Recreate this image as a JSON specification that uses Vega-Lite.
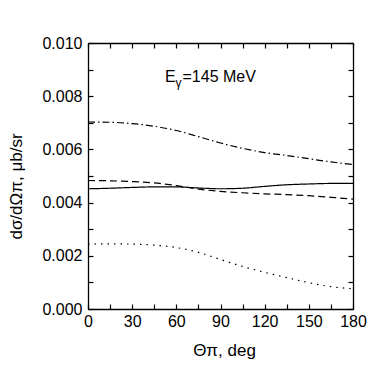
{
  "$schema": "https://vega.github.io/schema/vega-lite/v6.json",
  "width": 265,
  "height": 266,
  "autosize": {"type": "none"},
  "padding": {"left": 88, "top": 43, "right": 38, "bottom": 72},
  "background": "white",
  "config": {
    "view": {"stroke": null},
    "font": "Liberation Sans",
    "axis": {
      "grid": false,
      "domainColor": "black",
      "domainWidth": 1.3,
      "tickColor": "black",
      "tickWidth": 1.2,
      "labelFont": "Liberation Sans",
      "labelFontSize": 16,
      "labelColor": "black",
      "titleFont": "Liberation Sans",
      "titleFontSize": 17,
      "titleFontWeight": "normal",
      "titleColor": "black",
      "labelFlush": false,
      "labelOverlap": false,
      "labelBound": false
    }
  },
  "datasets": {
    "curves": [
      {"theta": 0, "sigma": 0.00452, "curve": "solid"},
      {"theta": 15, "sigma": 0.00454, "curve": "solid"},
      {"theta": 30, "sigma": 0.00457, "curve": "solid"},
      {"theta": 45, "sigma": 0.00459, "curve": "solid"},
      {"theta": 60, "sigma": 0.00459, "curve": "solid"},
      {"theta": 75, "sigma": 0.00455, "curve": "solid"},
      {"theta": 90, "sigma": 0.00452, "curve": "solid"},
      {"theta": 105, "sigma": 0.00454, "curve": "solid"},
      {"theta": 120, "sigma": 0.00461, "curve": "solid"},
      {"theta": 135, "sigma": 0.00467, "curve": "solid"},
      {"theta": 150, "sigma": 0.00470, "curve": "solid"},
      {"theta": 165, "sigma": 0.00472, "curve": "solid"},
      {"theta": 180, "sigma": 0.00472, "curve": "solid"},
      {"theta": 0, "sigma": 0.00483, "curve": "dashed"},
      {"theta": 15, "sigma": 0.00482, "curve": "dashed"},
      {"theta": 30, "sigma": 0.00479, "curve": "dashed"},
      {"theta": 45, "sigma": 0.00474, "curve": "dashed"},
      {"theta": 60, "sigma": 0.00464, "curve": "dashed"},
      {"theta": 75, "sigma": 0.00451, "curve": "dashed"},
      {"theta": 90, "sigma": 0.00442, "curve": "dashed"},
      {"theta": 105, "sigma": 0.00437, "curve": "dashed"},
      {"theta": 120, "sigma": 0.00433, "curve": "dashed"},
      {"theta": 135, "sigma": 0.00430, "curve": "dashed"},
      {"theta": 150, "sigma": 0.00426, "curve": "dashed"},
      {"theta": 165, "sigma": 0.00420, "curve": "dashed"},
      {"theta": 180, "sigma": 0.00413, "curve": "dashed"},
      {"theta": 0, "sigma": 0.00703, "curve": "dashdot"},
      {"theta": 15, "sigma": 0.00702, "curve": "dashdot"},
      {"theta": 30, "sigma": 0.00697, "curve": "dashdot"},
      {"theta": 45, "sigma": 0.00687, "curve": "dashdot"},
      {"theta": 60, "sigma": 0.00671, "curve": "dashdot"},
      {"theta": 75, "sigma": 0.00648, "curve": "dashdot"},
      {"theta": 90, "sigma": 0.00624, "curve": "dashdot"},
      {"theta": 105, "sigma": 0.00604, "curve": "dashdot"},
      {"theta": 120, "sigma": 0.00588, "curve": "dashdot"},
      {"theta": 135, "sigma": 0.00577, "curve": "dashdot"},
      {"theta": 150, "sigma": 0.00565, "curve": "dashdot"},
      {"theta": 165, "sigma": 0.00553, "curve": "dashdot"},
      {"theta": 180, "sigma": 0.00543, "curve": "dashdot"},
      {"theta": 0, "sigma": 0.00244, "curve": "dotted"},
      {"theta": 15, "sigma": 0.00245, "curve": "dotted"},
      {"theta": 30, "sigma": 0.00244, "curve": "dotted"},
      {"theta": 45, "sigma": 0.00240, "curve": "dotted"},
      {"theta": 60, "sigma": 0.00231, "curve": "dotted"},
      {"theta": 75, "sigma": 0.00213, "curve": "dotted"},
      {"theta": 90, "sigma": 0.00186, "curve": "dotted"},
      {"theta": 105, "sigma": 0.00160, "curve": "dotted"},
      {"theta": 120, "sigma": 0.00138, "curve": "dotted"},
      {"theta": 135, "sigma": 0.00118, "curve": "dotted"},
      {"theta": 150, "sigma": 0.00099, "curve": "dotted"},
      {"theta": 165, "sigma": 0.00084, "curve": "dotted"},
      {"theta": 180, "sigma": 0.00076, "curve": "dotted"}
    ]
  },
  "layer": [
    {
      "data": {"name": "curves"},
      "mark": {"type": "line", "interpolate": "monotone", "color": "black", "strokeWidth": 1.2},
      "encoding": {
        "x": {
          "field": "theta", "type": "quantitative",
          "scale": {"domain": [0, 180], "nice": false, "zero": false},
          "axis": {
            "orient": "bottom",
            "values": [0, 15, 30, 45, 60, 75, 90, 105, 120, 135, 150, 165, 180],
            "labelExpr": "datum.value % 30 === 0 ? datum.label : ''",
            "tickSize": -5,
            "labelPadding": 9,
            "title": "Θπ, deg",
            "titleX": 136,
            "titleY": 46,
            "titleAlign": "center",
            "titleBaseline": "alphabetic",
            "encode": {"ticks": {"update": {"y2": {"signal": "datum.value % 30 === 0 ? -5 : -3"}}}}
          }
        },
        "y": {
          "field": "sigma", "type": "quantitative",
          "scale": {"domain": [0, 0.01], "nice": false},
          "axis": {
            "orient": "left",
            "values": [0, 0.001, 0.002, 0.003, 0.004, 0.005, 0.006, 0.007, 0.008, 0.009, 0.01],
            "labelExpr": "round(datum.value * 1000) % 2 === 0 ? format(datum.value, '.3f') : ''",
            "tickSize": -5,
            "labelPadding": 11,
            "title": "dσ/dΩπ, μb/sr",
            "titleAngle": -90,
            "titleX": -72,
            "titleY": 143,
            "titleAlign": "center",
            "titleBaseline": "middle",
            "encode": {"ticks": {"update": {"x2": {"signal": "round(datum.value * 1000) % 2 === 0 ? 5 : 3"}}}}
          }
        },
        "strokeDash": {
          "field": "curve", "type": "nominal",
          "scale": {"domain": ["solid", "dashed", "dashdot", "dotted"], "range": [[1, 0], [7, 4], [7, 3, 1.5, 3], [1.5, 5]]},
          "legend": null
        }
      }
    },
    {
      "data": {"values": [{}]},
      "mark": {"type": "text", "text": "E", "align": "left", "baseline": "alphabetic", "fontSize": 16, "font": "Liberation Sans", "color": "black"},
      "encoding": {
        "x": {
          "datum": 52.3, "type": "quantitative",
          "scale": {"domain": [0, 180], "nice": false, "zero": false},
          "axis": {
            "orient": "top",
            "values": [0, 15, 30, 45, 60, 75, 90, 105, 120, 135, 150, 165, 180],
            "labels": false, "title": null, "tickSize": -5,
            "encode": {"ticks": {"update": {"y2": {"signal": "datum.value % 30 === 0 ? 5 : 3"}}}}
          }
        },
        "y": {
          "datum": 0.00852, "type": "quantitative",
          "scale": {"domain": [0, 0.01], "nice": false},
          "axis": {
            "orient": "right",
            "values": [0, 0.001, 0.002, 0.003, 0.004, 0.005, 0.006, 0.007, 0.008, 0.009, 0.01],
            "labels": false, "title": null, "tickSize": -5,
            "encode": {"ticks": {"update": {"x2": {"signal": "round(datum.value * 1000) % 2 === 0 ? -5 : -3"}}}}
          }
        }
      }
    },
    {
      "data": {"values": [{}]},
      "mark": {"type": "text", "text": "γ", "align": "left", "baseline": "alphabetic", "dx": 10.5, "dy": 5, "fontSize": 12, "font": "Liberation Sans", "color": "black"},
      "encoding": {
        "x": {"datum": 52.3, "type": "quantitative", "axis": null},
        "y": {"datum": 0.00852, "type": "quantitative", "axis": null}
      }
    },
    {
      "data": {"values": [{}]},
      "mark": {"type": "text", "text": "=145 MeV", "align": "left", "baseline": "alphabetic", "dx": 17.5, "fontSize": 16, "font": "Liberation Sans", "color": "black"},
      "encoding": {
        "x": {"datum": 52.3, "type": "quantitative", "axis": null},
        "y": {"datum": 0.00852, "type": "quantitative", "axis": null}
      }
    }
  ],
  "resolve": {"axis": {"x": "independent", "y": "independent"}}
}
